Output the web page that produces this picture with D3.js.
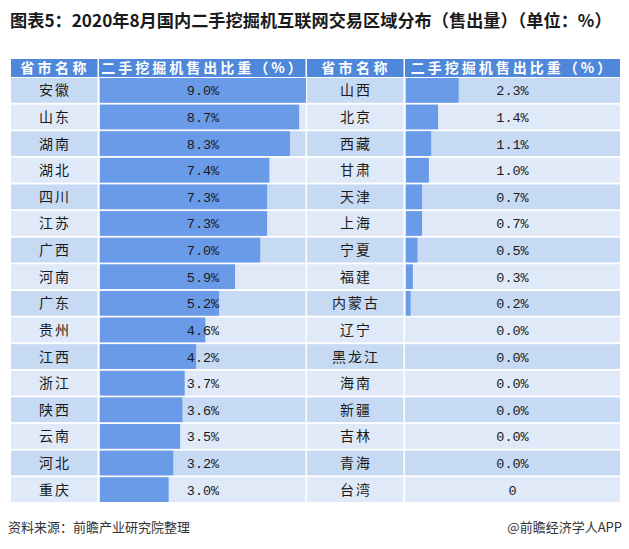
<!DOCTYPE html>
<html><head><meta charset="utf-8">
<script src="https://cdn.jsdelivr.net/npm/d3@7/dist/d3.min.js"></script>
<style>body{margin:0;background:#fff}svg{display:block}</style>
</head><body>
<svg id="c" width="629" height="549"></svg>
<script>
const leftNames = ["安徽","山东","湖南","湖北","四川","江苏","广西","河南","广东","贵州","江西","浙江","陕西","云南","河北","重庆"];
const leftValues = [9.0,8.7,8.3,7.4,7.3,7.3,7.0,5.9,5.2,4.6,4.2,3.7,3.6,3.5,3.2,3.0];
const rightNames = ["山西","北京","西藏","甘肃","天津","上海","宁夏","福建","内蒙古","辽宁","黑龙江","海南","新疆","吉林","青海","台湾"];
const rightValues = [2.3,1.4,1.1,1.0,0.7,0.7,0.5,0.3,0.2,0.0,0.0,0.0,0.0,0.0,0.0,0];
const rightLabels = ["2.3%","1.4%","1.1%","1.0%","0.7%","0.7%","0.5%","0.3%","0.2%","0.0%","0.0%","0.0%","0.0%","0.0%","0.0%","0"];
const headers = ["省市名称","二手挖掘机售出比重（%）","省市名称","二手挖掘机售出比重（%）"];
const title = "图表5：2020年8月国内二手挖掘机互联网交易区域分布（售出量）（单位：%）";
const source = "资料来源：前瞻产业研究院整理";
const credit = "@前瞻经济学人APP";

const svg = d3.select("#c");
const colX = [11, 99, 307, 405, 620];
const headTop = 59, headBot = 77, tableBot = 502;
const cjk = "'Noto Sans CJK SC', 'Noto Sans', sans-serif";

svg.append("text").attr("x", 10).attr("y", 27)
  .attr("font-family", cjk).attr("font-weight", "bold").attr("font-size", 17.2)
  .attr("fill", "#1a1a1a").text(title);

// header
const hdr = svg.append("g");
for (let i = 0; i < 4; i++) {
  hdr.append("rect").attr("x", colX[i]).attr("y", headTop)
    .attr("width", colX[i+1] - colX[i] - (i < 3 ? 1.5 : 0)).attr("height", headBot - headTop)
    .attr("fill", "#4f88da");
  hdr.append("text").attr("x", (colX[i] + colX[i+1]) / 2).attr("y", (headTop + headBot) / 2 + 5)
    .attr("text-anchor", "middle").attr("font-family", cjk).attr("font-weight", "bold")
    .attr("font-size", 14).attr("letter-spacing", i % 2 ? 3 : 3.4).attr("fill", "#fff").text(headers[i]);
}

const y = d3.scaleBand().domain(d3.range(leftNames.length)).range([headBot + 1, tableBot]).paddingInner(0.07);
const x = d3.scaleLinear().domain([0, 9]).range([0, 206]);

function drawSide(names, values, labels, c0) {
  const g = svg.append("g");
  const rows = g.selectAll("g").data(names).join("g");
  rows.each(function(n, i) {
    const r = d3.select(this);
    const fill = i % 2 === 0 ? "#c7daf4" : "#dfe9f7";
    const yy = y(i), h = y.bandwidth();
    r.append("rect").attr("x", colX[c0]).attr("y", yy).attr("width", colX[c0+1] - colX[c0] - 1.5).attr("height", h).attr("fill", fill);
    r.append("rect").attr("x", colX[c0+1]).attr("y", yy).attr("width", colX[c0+2] - colX[c0+1] - (c0 === 0 ? 1.5 : 0)).attr("height", h).attr("fill", fill);
    r.append("rect").attr("x", colX[c0+1] + 1).attr("y", yy).attr("width", x(values[i])).attr("height", h).attr("fill", "#6a9be9");
    r.append("text").attr("x", (colX[c0] + colX[c0+1]) / 2).attr("y", yy + h / 2 + 5)
      .attr("text-anchor", "middle").attr("font-family", cjk).attr("font-size", 14)
      .attr("letter-spacing", 2).attr("fill", "#1a1a1a").text(n);
    r.append("text").attr("x", (colX[c0+1] + colX[c0+2]) / 2).attr("y", yy + h / 2 + 5)
      .attr("text-anchor", "middle").attr("font-family", "'Liberation Mono', monospace").attr("font-size", 13.5)
      .attr("fill", "#1a1a1a").text(labels[i]);
  });
}
drawSide(leftNames, leftValues, leftValues.map(v => v.toFixed(1) + "%"), 0);
drawSide(rightNames, rightValues, rightLabels, 2);

svg.append("text").attr("x", 8).attr("y", 532).attr("font-family", cjk).attr("font-size", 13)
  .attr("fill", "#333").text(source);
svg.append("text").attr("x", 622).attr("y", 532).attr("text-anchor", "end").attr("font-family", cjk).attr("font-size", 13)
  .attr("fill", "#333").text(credit);
</script>
</body></html>
